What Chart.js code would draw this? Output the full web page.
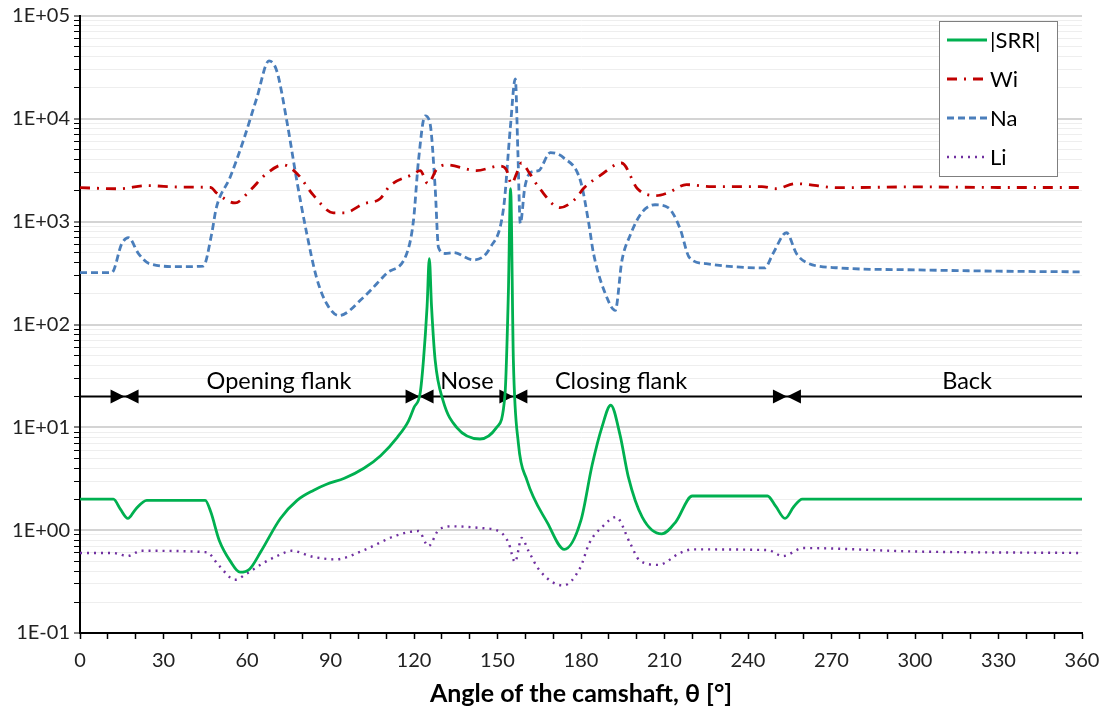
<!DOCTYPE html>
<html>
<head>
<meta charset="utf-8">
<script src="https://cdn.jsdelivr.net/npm/chart.js@4.4.1/dist/chart.umd.min.js"></script>
<style>
  html, body { margin: 0; padding: 0; background: #fff; }
  #wrap { width: 1100px; height: 711px; }
</style>
</head>
<body>
<div id="wrap"><canvas id="chart" width="1100" height="711"></canvas></div>
<script>
// Values (angle in degrees, value on log scale)

const srrAngles = [0, 12, 14.5, 17.2, 20, 24, 45, 47, 50, 54, 57.5, 61, 65, 72, 78, 84, 88.6, 95, 102, 108, 114, 118, 120, 122.2, 123.4, 124.7, 125.5, 126.3, 127.6, 130.5, 135.3, 143.7, 149.7, 152.7, 153.9, 154.7, 155.7, 157.5, 160.5, 168, 174, 180, 184, 187.5, 190.7, 194, 197, 202, 209, 214, 220, 247, 250, 253.3, 256.5, 259.5, 360];
const srrValues = [2.0, 2.0, 1.6, 1.3, 1.6, 1.95, 1.95, 1.5, 0.8, 0.5, 0.39, 0.42, 0.62, 1.3, 1.95, 2.45, 2.8, 3.2, 4.0, 5.3, 8.0, 11.5, 15.6, 21.4, 45, 150, 437, 150, 45, 18, 10, 7.7, 10, 21, 200, 2100, 45, 7, 3.1, 1.17, 0.65, 1.25, 4.3, 10, 16.4, 8.5, 3.3, 1.34, 0.92, 1.2, 2.15, 2.15, 1.7, 1.3, 1.7, 2.0, 2.0];

const wiAngles = [0, 14, 24, 36, 47, 49, 55.7, 61, 67, 73, 78, 84, 91, 95, 101.8, 107.8, 111.4, 119.8, 122.2, 125, 128.2, 131.6, 142.4, 150.8, 153.2, 155, 157, 158.6, 161.6, 165.2, 172.4, 178.3, 180.8, 186.8, 194.6, 200.3, 207, 211.3, 217.9, 227, 245, 250, 257, 272.6, 300, 330, 360];
const wiValues = [2140, 2090, 2240, 2170, 2150, 1910, 1520, 2000, 2930, 3570, 2930, 1790, 1220, 1220, 1490, 1670, 2240, 2900, 3140, 2340, 3250, 3570, 3140, 3480, 3200, 2340, 3000, 3720, 2930, 2090, 1370, 1700, 2090, 2800, 3720, 2090, 1790, 1910, 2290, 2190, 2190, 2090, 2340, 2140, 2180, 2150, 2150];

const naAngles = [0, 11.4, 15, 17.4, 21, 25, 36, 44.3, 47.3, 49, 53.9, 58.7, 63.5, 67.9, 70.7, 74.3, 77.9, 81.5, 85, 88.6, 93, 101.8, 110.2, 117.4, 119.8, 121.6, 124, 125.8, 127.6, 128.8, 131.2, 134.2, 141.4, 147.4, 152.2, 154.6, 156.4, 157.3, 158.2, 159.8, 161.8, 164.8, 169, 173.8, 179.8, 182.8, 184.5, 189.3, 192.3, 194.7, 197.6, 201.8, 206.6, 211.3, 215.5, 219, 225, 234.6, 246, 249, 253.8, 257.4, 261, 273, 300, 330, 360];
const naValues = [320, 320, 610, 700, 490, 390, 365, 370, 760, 1370, 2690, 6160, 15900, 36600, 29200, 9540, 2500, 760, 285, 160, 122, 183, 315, 490, 1020, 3900, 10700, 8900, 2140, 560, 490, 500, 425, 560, 1370, 8150, 24500, 5000, 960, 2140, 3000, 3140, 4690, 4170, 2500, 960, 490, 183, 137, 418, 730, 1220, 1460, 1370, 870, 445, 390, 365, 355, 490, 780, 490, 400, 355, 340, 330, 325];

const liAngles = [0, 12, 17, 22, 45.5, 50, 55.7, 60, 65.9, 72, 76, 83.8, 92, 102, 113.8, 121.6, 125.2, 128.8, 134, 143.7, 151, 154, 156.3, 158.7, 161, 165, 173.6, 179.7, 183, 188, 192.6, 197.6, 201, 207.8, 215.6, 220, 247, 252.6, 259.8, 300, 360];
const liValues = [0.6, 0.6, 0.56, 0.63, 0.61, 0.45, 0.33, 0.38, 0.48, 0.58, 0.63, 0.55, 0.52, 0.64, 0.89, 0.98, 0.70, 1.0, 1.09, 1.05, 0.96, 0.75, 0.49, 0.84, 0.64, 0.41, 0.29, 0.43, 0.75, 1.1, 1.34, 0.75, 0.51, 0.46, 0.6, 0.65, 0.64, 0.56, 0.67, 0.62, 0.6];

// Cam sections shown by the arrow line
const sectionLevel = 20;
const sectionBounds = [16, 122, 155.7, 254];
const sectionNames = ['Opening flank', 'Nose', 'Closing flank', 'Back'];
const sectionCenters = [71.5, 139, 194.4, 318.7];

const xTickStep = 10;
const xLabelStep = 30;

function toPoints(xs, ys) {
    return xs.map((a, i) => ({ x: a, y: ys[i] }));
}

function isPow10(v) {
    const l = Math.log10(v);
    return Math.abs(l - Math.round(l)) < 1e-9;
}

function sciLabel(v) {
    const e = Math.round(Math.log10(v));
    const sign = e < 0 ? '-' : '+';
    return '1E' + sign + String(Math.abs(e)).padStart(2, '0');
}

// Draw the section arrows and the boxed legend
const overlayPlugin = {
    id: 'overlay',
    beforeDatasetsDraw(chart) {
        const { ctx, scales: { x, y } } = chart;
        const py = Math.round(y.getPixelForValue(sectionLevel)) + 0.5;
        ctx.save();
        ctx.strokeStyle = '#000';
        ctx.lineWidth = 2;
        ctx.beginPath();
        ctx.moveTo(x.getPixelForValue(0), py);
        ctx.lineTo(x.getPixelForValue(360), py);
        ctx.stroke();
        ctx.fillStyle = '#000';
        sectionBounds.forEach(b => {
            const px = x.getPixelForValue(b);
            ctx.beginPath();
            ctx.moveTo(px, py);
            ctx.lineTo(px - 14, py - 7);
            ctx.lineTo(px - 14, py + 7);
            ctx.closePath();
            ctx.fill();
            ctx.beginPath();
            ctx.moveTo(px, py);
            ctx.lineTo(px + 14, py - 7);
            ctx.lineTo(px + 14, py + 7);
            ctx.closePath();
            ctx.fill();
        });
        ctx.font = '23.5px Lato';
        ctx.textAlign = 'center';
        ctx.textBaseline = 'alphabetic';
        sectionNames.forEach((name, i) => {
            ctx.fillText(name, x.getPixelForValue(sectionCenters[i]), py - 8);
        });
        ctx.restore();
    },
    afterDatasetsDraw(chart) {
        const { ctx } = chart;
        const left = 939, top = 21, width = 118, height = 155;
        ctx.save();
        ctx.fillStyle = '#fff';
        ctx.fillRect(left, top, width, height);
        ctx.strokeStyle = '#7f7f7f';
        ctx.lineWidth = 1;
        ctx.strokeRect(left + 0.5, top + 0.5, width, height);
        ctx.font = '22px Lato';
        ctx.textAlign = 'left';
        ctx.textBaseline = 'middle';
        chart.data.datasets.forEach((ds, i) => {
            const ry = top + 19 + i * 39;
            ctx.strokeStyle = ds.borderColor;
            ctx.lineWidth = ds.borderWidth;
            ctx.setLineDash(ds.borderDash || []);
            ctx.lineCap = ds.borderCapStyle || 'butt';
            ctx.beginPath();
            ctx.moveTo(left + 8, ry);
            ctx.lineTo(left + 48, ry);
            ctx.stroke();
            ctx.setLineDash([]);
            ctx.fillStyle = '#000';
            ctx.fillText(ds.label, left + 51, ry + 1);
        });
        ctx.restore();
    }
};

const ctx = document.getElementById('chart').getContext('2d');

const srrChart = new Chart(ctx, {
    type: 'line',
    data: {
        datasets: [
            {
                label: '|SRR|',
                data: toPoints(srrAngles, srrValues),
                borderColor: '#00b050',
                borderWidth: 2.8,
                cubicInterpolationMode: 'monotone'
            },
            {
                label: 'Wi',
                data: toPoints(wiAngles, wiValues),
                borderColor: '#c00000',
                borderWidth: 2.8,
                borderDash: [10, 7, 2, 7],
                cubicInterpolationMode: 'monotone'
            },
            {
                label: 'Na',
                data: toPoints(naAngles, naValues),
                borderColor: '#4a7ebb',
                borderWidth: 2.8,
                borderDash: [7, 4],
                cubicInterpolationMode: 'monotone'
            },
            {
                label: 'Li',
                data: toPoints(liAngles, liValues),
                borderColor: '#7030a0',
                borderWidth: 2.4,
                borderDash: [2, 5],
                cubicInterpolationMode: 'monotone'
            }
        ]
    },
    options: {
        responsive: false,
        animation: false,
        events: [],
        elements: { point: { radius: 0 } },
        layout: { padding: { top: 15, right: 18, left: 0, bottom: 0 } },
        plugins: {
            legend: { display: false },
            tooltip: { enabled: false }
        },
        scales: {
            x: {
                type: 'linear',
                min: 0,
                max: 360,
                afterFit: (scale) => {
                    scale.height = 78;
                    scale.paddingLeft = 0;
                    scale.paddingRight = 0;
                },
                ticks: {
                    stepSize: xTickStep,
                    autoSkip: false,
                    maxRotation: 0,
                    padding: 10,
                    color: '#222',
                    font: { family: 'Lato', size: 20 },
                    callback: (v) => (v % xLabelStep === 0 ? String(v) : '')
                },
                grid: {
                    drawOnChartArea: false,
                    drawTicks: true,
                    tickLength: 6,
                    tickColor: '#000',
                    tickWidth: 1.5
                },
                border: { color: '#000', width: 2 },
                title: {
                    display: true,
                    text: 'Angle of the camshaft, θ [°]',
                    color: '#000',
                    font: { family: 'Lato', size: 25, weight: 'bold' },
                    padding: { top: 0, bottom: 2 }
                }
            },
            y: {
                type: 'logarithmic',
                min: 0.1,
                max: 100000,
                afterFit: (scale) => { scale.width = 80; },
                afterBuildTicks: (scale) => {
                    const ticks = [];
                    for (let e = -1; e <= 4; e++) {
                        for (let m = 1; m <= 9; m++) {
                            ticks.push({ value: m * Math.pow(10, e) });
                        }
                    }
                    ticks.push({ value: 100000 });
                    scale.ticks = ticks;
                },
                ticks: {
                    autoSkip: false,
                    padding: 4,
                    color: '#222',
                    font: { family: 'Lato', size: 20 },
                    callback: (v) => (isPow10(v) ? sciLabel(v) : '')
                },
                grid: {
                    color: (c) => (c.tick && isPow10(c.tick.value) ? '#d4d4d4' : '#eeeeee'),
                    lineWidth: (c) => (c.tick && isPow10(c.tick.value) ? 2 : 1),
                    tickColor: '#000',
                    tickLength: 6,
                    tickWidth: 1
                },
                border: { color: '#000', width: 2 }
            }
        }
    },
    plugins: [overlayPlugin]
});
</script>
</body>
</html>
